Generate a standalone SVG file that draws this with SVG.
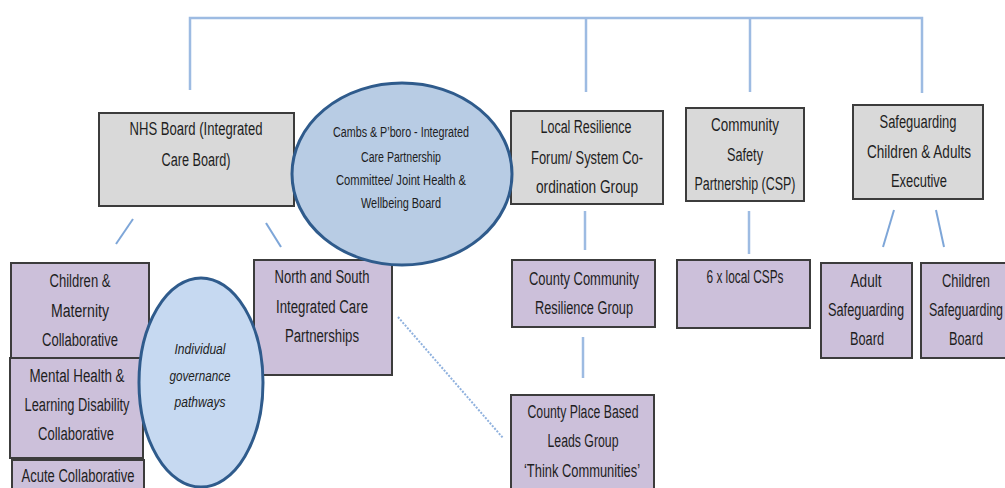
<svg xmlns="http://www.w3.org/2000/svg" width="1005" height="488" viewBox="0 0 1005 488">
<style>
.bx{stroke:#3c3c3c;stroke-width:2}
.g{fill:#d9d9d9}
.p{fill:#ccc0da}
.el{stroke:#2f5b8c;stroke-width:3}
.c{stroke:#9dbbe2;stroke-width:2.5;fill:none}
.d{stroke:#7ea6d8;stroke-width:2;fill:none}
.dot{stroke:#8fb1de;stroke-width:2;stroke-dasharray:2 1.5;fill:none}
text{font-family:"Liberation Sans",Arial,sans-serif;fill:#1e1e1e;text-anchor:middle}
.t{font-size:18px}
.s{font-size:15.5px}
.i{font-size:14.5px;font-style:italic}
</style>
<rect width="1005" height="488" fill="#ffffff"/>
<g id="connectors">
<polyline class="c" points="190,90 190,18 922,18 922,93"/>
<line class="c" x1="586" y1="18" x2="586" y2="92"/>
<line class="c" x1="750" y1="18" x2="750" y2="92"/>
<line class="d" x1="133" y1="219" x2="116" y2="244"/>
<line class="d" x1="266" y1="223" x2="281" y2="247"/>
<line class="c" x1="585" y1="211" x2="585" y2="250"/>
<line class="c" x1="749" y1="211" x2="749" y2="254"/>
<line class="d" x1="894" y1="210" x2="883" y2="247"/>
<line class="d" x1="936" y1="210" x2="944" y2="247"/>
<line class="c" x1="583" y1="337" x2="583" y2="378"/>
<line class="dot" x1="398" y1="317" x2="503" y2="438"/>
</g>
<g id="nhs-board">
<rect class="bx g" x="99" y="113" width="195" height="93"/>
<text class="t" x="196" y="135" textLength="133" lengthAdjust="spacingAndGlyphs">NHS Board (Integrated</text>
<text class="t" x="196" y="166" textLength="69" lengthAdjust="spacingAndGlyphs">Care Board)</text>
</g>
<g id="lrf">
<rect class="bx g" x="511" y="111" width="152" height="93"/>
<text class="t" x="586" y="133" textLength="91" lengthAdjust="spacingAndGlyphs">Local Resilience</text>
<text class="t" x="587" y="164" textLength="112" lengthAdjust="spacingAndGlyphs">Forum/ System Co-</text>
<text class="t" x="587" y="193" textLength="102" lengthAdjust="spacingAndGlyphs">ordination Group</text>
</g>
<g id="csp">
<rect class="bx g" x="686" y="108" width="118" height="93"/>
<text class="t" x="745" y="131" textLength="68" lengthAdjust="spacingAndGlyphs">Community</text>
<text class="t" x="745" y="161" textLength="36" lengthAdjust="spacingAndGlyphs">Safety</text>
<text class="t" x="745" y="190" textLength="101" lengthAdjust="spacingAndGlyphs">Partnership (CSP)</text>
</g>
<g id="safeguarding-exec">
<rect class="bx g" x="853" y="105" width="130" height="94"/>
<text class="t" x="918" y="128" textLength="77" lengthAdjust="spacingAndGlyphs">Safeguarding</text>
<text class="t" x="919" y="158" textLength="104" lengthAdjust="spacingAndGlyphs">Children &amp; Adults</text>
<text class="t" x="919" y="187" textLength="56" lengthAdjust="spacingAndGlyphs">Executive</text>
</g>
<g id="children-maternity">
<rect class="bx p" x="11" y="263" width="138" height="95"/>
<text class="t" x="80" y="287" textLength="61" lengthAdjust="spacingAndGlyphs">Children &amp;</text>
<text class="t" x="80" y="317" textLength="58" lengthAdjust="spacingAndGlyphs">Maternity</text>
<text class="t" x="80" y="346" textLength="76" lengthAdjust="spacingAndGlyphs">Collaborative</text>
</g>
<g id="mental-health">
<rect class="bx p" x="10" y="358" width="133" height="100"/>
<text class="t" x="77" y="382" textLength="95" lengthAdjust="spacingAndGlyphs">Mental Health &amp;</text>
<text class="t" x="77" y="411" textLength="105" lengthAdjust="spacingAndGlyphs">Learning Disability</text>
<text class="t" x="76" y="440" textLength="76" lengthAdjust="spacingAndGlyphs">Collaborative</text>
</g>
<g id="acute">
<rect class="bx p" x="12" y="460" width="132" height="36"/>
<text class="t" x="78" y="482" textLength="113" lengthAdjust="spacingAndGlyphs">Acute Collaborative</text>
</g>
<g id="north-south-icp">
<rect class="bx p" x="254" y="260" width="138" height="115"/>
<text class="t" x="322" y="283" textLength="95" lengthAdjust="spacingAndGlyphs">North and South</text>
<text class="t" x="322" y="313" textLength="92" lengthAdjust="spacingAndGlyphs">Integrated Care</text>
<text class="t" x="322" y="342" textLength="74" lengthAdjust="spacingAndGlyphs">Partnerships</text>
</g>
<g id="county-community">
<rect class="bx p" x="512" y="260" width="143" height="67"/>
<text class="t" x="584" y="285" textLength="110" lengthAdjust="spacingAndGlyphs">County Community</text>
<text class="t" x="584" y="314" textLength="98" lengthAdjust="spacingAndGlyphs">Resilience Group</text>
</g>
<g id="county-place">
<rect class="bx p" x="511" y="395" width="143" height="100"/>
<text class="t" x="583" y="418" textLength="111" lengthAdjust="spacingAndGlyphs">County Place Based</text>
<text class="t" x="583" y="447" textLength="71" lengthAdjust="spacingAndGlyphs">Leads Group</text>
<text class="t" x="582" y="477" textLength="116" lengthAdjust="spacingAndGlyphs">‘Think Communities’</text>
</g>
<g id="local-csps">
<rect class="bx p" x="677" y="260" width="133" height="68"/>
<text class="t" x="745" y="283" textLength="77" lengthAdjust="spacingAndGlyphs">6 x local CSPs</text>
</g>
<g id="adult-safeguarding">
<rect class="bx p" x="821" y="263" width="91" height="95"/>
<text class="t" x="866" y="287" textLength="31" lengthAdjust="spacingAndGlyphs">Adult</text>
<text class="t" x="866" y="316" textLength="76" lengthAdjust="spacingAndGlyphs">Safeguarding</text>
<text class="t" x="867" y="345" textLength="34" lengthAdjust="spacingAndGlyphs">Board</text>
</g>
<g id="children-safeguarding">
<rect class="bx p" x="921" y="263" width="92" height="95"/>
<text class="t" x="966" y="287" textLength="48" lengthAdjust="spacingAndGlyphs">Children</text>
<text class="t" x="966" y="316" textLength="74" lengthAdjust="spacingAndGlyphs">Safeguarding</text>
<text class="t" x="966" y="345" textLength="34" lengthAdjust="spacingAndGlyphs">Board</text>
</g>
<g id="icp-committee">
<ellipse class="el" cx="402" cy="174" rx="110" ry="91" fill="#b8cce4"/>
<text class="s" x="401" y="137" textLength="136" lengthAdjust="spacingAndGlyphs">Cambs &amp; P’boro - Integrated</text>
<text class="s" x="401" y="162" textLength="80" lengthAdjust="spacingAndGlyphs">Care Partnership</text>
<text class="s" x="401" y="185" textLength="130" lengthAdjust="spacingAndGlyphs">Committee/ Joint Health &amp;</text>
<text class="s" x="401" y="208" textLength="80" lengthAdjust="spacingAndGlyphs">Wellbeing Board</text>
</g>
<g id="individual-governance">
<ellipse class="el" cx="201" cy="382.5" rx="62" ry="104.5" fill="#c6d9f1"/>
<text class="i" x="200" y="354" textLength="51" lengthAdjust="spacingAndGlyphs">Individual</text>
<text class="i" x="200" y="381" textLength="61" lengthAdjust="spacingAndGlyphs">governance</text>
<text class="i" x="200" y="407" textLength="51" lengthAdjust="spacingAndGlyphs">pathways</text>
</g>
</svg>
